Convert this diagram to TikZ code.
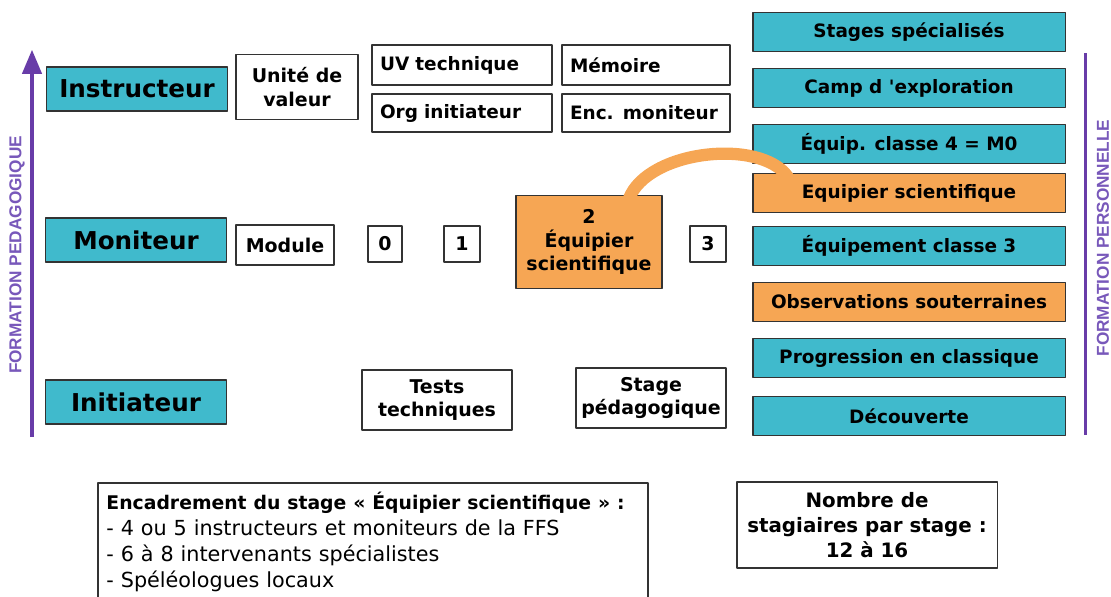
\documentclass[tikz,border=0pt]{standalone}
\usepackage{fontspec}
\setmainfont{DejaVu Sans}[Ligatures=TeXOff]
\newfontfamily\sidefont{Liberation Sans}
\usetikzlibrary{arrows}
\definecolor{boxblue}{RGB}{64,186,204}
\definecolor{boxorange}{RGB}{246,166,84}
\definecolor{lineviolet}{RGB}{104,60,168}
\definecolor{textviolet}{RGB}{120,88,186}

\begin{document}
\begin{tikzpicture}[x=0.02cm,y=-0.02cm,join=round,
        box/.style={draw=black!80,line width=1.1pt,inner sep=2pt,align=center},
        level/.style={box,fill=boxblue,minimum width=3.62cm,minimum height=.88cm,
                font=\bfseries\fontsize{14}{16}\selectfont},
        stage/.style={box,fill=boxblue,minimum width=6.26cm,minimum height=.78cm,
                font=\bfseries\fontsize{10.5}{12}\selectfont},
        hot/.style={fill=boxorange},
        cell/.style={box,fill=white,font=\bfseries\fontsize{10.8}{13.5}\selectfont},
        leftcell/.style={box,fill=white,align=left,minimum height=.8cm,inner xsep=.16cm,
                font=\bfseries\fontsize{10.5}{13}\selectfont},
        sidetext/.style={rotate=90,text=textviolet,font=\sidefont\bfseries\fontsize{9.8}{11}\selectfont},
        link/.style={boxorange,line width=7pt,line cap=round}]
        \useasboundingbox (0,0) rectangle (1111,596);
        % axes on both sides
        \coordinate (pedbot) at (32,437);
        \coordinate (pedtop) at (32,50);
        \draw[lineviolet,line width=2.2pt,-triangle 45] (pedbot) -- (pedtop);
        \node[sidetext] (pedlabel) at (17,255) {FORMATION PEDAGOGIQUE};
        \coordinate (perstop) at (1085,53);
        \coordinate (persbot) at (1085,435);
        \draw[lineviolet,line width=1.7pt] (perstop) -- (persbot);
        \node[sidetext] (perslabel) at (1103,238) {FORMATION PERSONNELLE};
        % levels
        \node[level] (instr) at (137,89) {Instructeur};
        \node[level] (monit) at (136,240) {Moniteur};
        \node[level] (initi) at (136,402) {Initiateur};
        % instructeur row
        \node[cell,minimum width=2.44cm,minimum height=1.3cm] (uv) at (297,87) {Unité de\\valeur};
        \node[leftcell,text width=3.28cm] (uvtech) at (462,65) {UV technique};
        \node[leftcell,text width=3.04cm] (memoire) at (646,65) {Mémoire};
        \node[leftcell,text width=3.28cm,minimum height=.76cm] (orgini) at (462,113) {Org initiateur};
        \node[leftcell,text width=3.04cm,minimum height=.76cm] (encmon) at (646,113) {Enc. moniteur};
        % moniteur row
        \node[cell,minimum width=1.96cm,minimum height=.8cm] (module) at (285,245) {Module};
        \node[cell,minimum width=.68cm,minimum height=.72cm] (mod0) at (385,244) {0};
        \node[cell,minimum width=.72cm,minimum height=.72cm] (mod1) at (462,244) {1};
        \node[cell,hot,minimum width=2.92cm,minimum height=1.86cm] (mod2) at (589,242) {2\\Équipier\\scientifique};
        \node[cell,minimum width=.72cm,minimum height=.72cm] (mod3) at (708,244) {3};
        % initiateur row
        \node[cell,minimum width=3cm,minimum height=1.2cm] (tests) at (437,400) {Tests\\techniques};
        \node[cell,minimum width=3cm,minimum height=1.2cm] (stageped) at (651,398) {Stage\\pédagogique};
        % stages column
        \node[stage] (specia) at (909,32) {Stages spécialisés};
        \node[stage] (camp) at (909,88) {Camp d 'exploration};
        \node[stage] (classe4) at (909,144) {Équip. classe 4 = M0};
        \node[stage,hot] (eqsci) at (909,193) {Equipier scientifique};
        \node[stage] (classe3) at (909,246) {Équipement classe 3};
        \node[stage,hot] (observ) at (909,302) {Observations souterraines};
        \node[stage] (progres) at (909,358) {Progression en classique};
        \node[stage] (decouv) at (909,416) {Découverte};
        % link between the two orange boxes
        \draw[link] ([xshift=.8cm,yshift=-.08cm]mod2.north) .. controls (648,150) and (760,138) .. ([xshift=.72cm,yshift=-.08cm]eqsci.north west);
        % notes
        \node[box,fill=white,anchor=north west,minimum width=11cm,minimum height=2.36cm,
                inner xsep=.17cm,text width=10.66cm,align=left,font=\fontsize{11.8}{14.7}\selectfont] (staff) at (97,482)
                {{\bfseries\fontsize{10.7}{14.7}\selectfont Encadrement du stage « Équipier scientifique » :}\\
                - 4 ou 5 instructeurs et moniteurs de la FFS\\
                - 6 à 8 intervenants spécialistes\\
                - Spéléologues locaux};
        \node[box,fill=white,minimum width=5.22cm,minimum height=1.72cm,
                font=\bfseries\fontsize{11.3}{14.2}\selectfont] (nombre) at (867,525)
                {Nombre de\\stagiaires par stage :\\12 à 16};
\end{tikzpicture}
\end{document}
